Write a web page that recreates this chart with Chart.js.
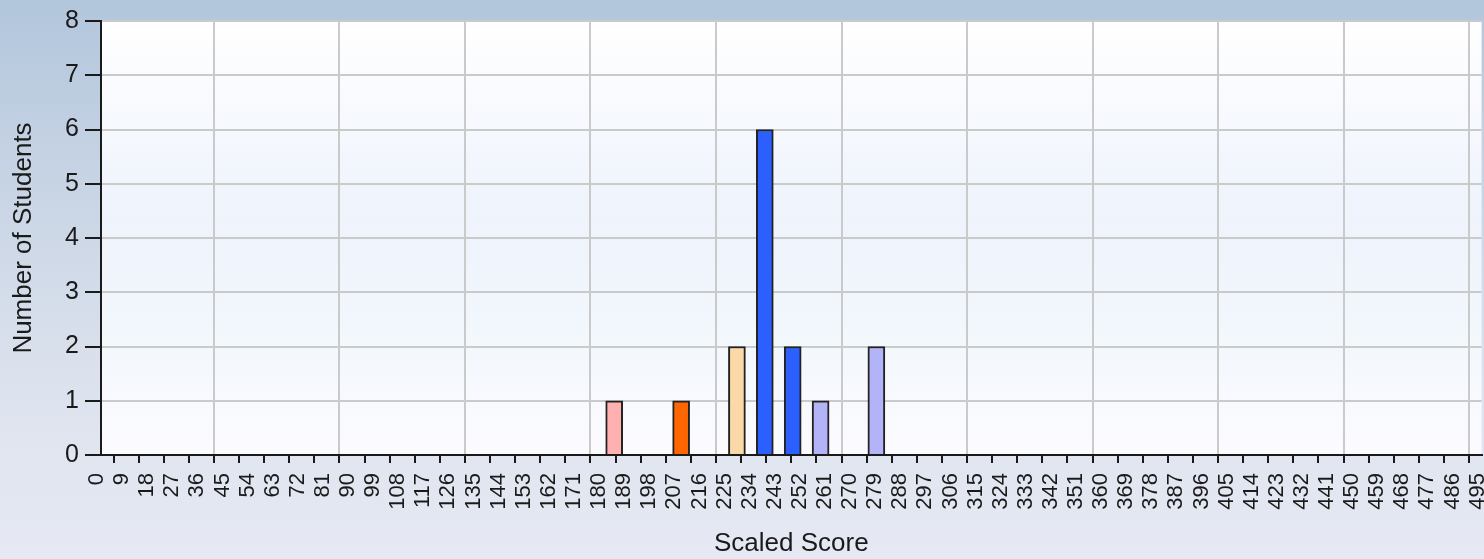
<!DOCTYPE html>
<html>
<head>
<meta charset="utf-8">
<script src="https://cdn.jsdelivr.net/npm/chart.js@4/dist/chart.umd.min.js"></script>
<style>
  html, body { margin: 0; padding: 0; overflow: hidden; width: 1484px; height: 559px; }
  body { background: linear-gradient(to bottom, #b2c6dc 0%, #c9d5e5 35%, #dde3ee 70%, #e6e9f3 100%); }
  #wrap { position: relative; width: 1518px; height: 559px; }
</style>
</head>
<body>
<div id="wrap"><canvas id="c"></canvas></div>
<script>
// Data
const scores = [184, 208, 228, 238, 248, 258, 278];
const counts = [1, 1, 2, 6, 2, 1, 2];
const barColors = ['#ffb1b1', '#ff6600', '#fad8a8', '#2b60ff', '#2b60ff', '#b3b3f8', '#b3b3f8'];
const xMin = 0, xMax = 495, xStep = 9;
const yMin = 0, yMax = 8, yStep = 1;
const xTitle = 'Scaled Score';
const yTitle = 'Number of Students';

const plotBg = {
  id: 'plotBg',
  beforeDraw(chart) {
    const {ctx, chartArea: a} = chart;
    const g = ctx.createLinearGradient(0, a.top, 0, a.bottom);
    g.addColorStop(0, '#ffffff');
    g.addColorStop(0.45, '#eef3fc');
    g.addColorStop(0.75, '#f3f8fd');
    g.addColorStop(1, '#fcfbff');
    ctx.save();
    ctx.fillStyle = g;
    ctx.fillRect(a.left, a.top, a.right - a.left, a.bottom - a.top);
    ctx.restore();
  }
};

new Chart(document.getElementById('c'), {
  type: 'bar',
  data: {
    datasets: [{
      data: scores.map((s, i) => ({x: s, y: counts[i]})),
      backgroundColor: barColors,
      borderColor: '#222222',
      borderWidth: 2,
      borderSkipped: 'bottom',
      barThickness: 17
    }]
  },
  options: {
    responsive: true,
    maintainAspectRatio: false,
    animation: false,
    layout: { padding: { top: 8, left: 0, right: 0, bottom: 0 } },
    plugins: { legend: { display: false }, tooltip: { enabled: false } },
    scales: {
      x: {
        type: 'linear',
        min: xMin, max: xMax,
        offset: false,
        afterFit: s => { s.height = 104; },
        ticks: {
          stepSize: xStep,
          autoSkip: false,
          maxRotation: 90, minRotation: 90,
          padding: 10,
          labelOffset: -4,
          color: '#1a1a1a',
          font: { family: '"Liberation Sans", Arial, sans-serif', size: 22 }
        },
        grid: {
          color: c => (c.tick && c.tick.value % 45 === 0) ? '#cacaca' : 'rgba(0,0,0,0)',
          lineWidth: 2,
          tickColor: '#1a1a1a',
          tickLength: 8,
          tickWidth: 2
        },
        border: { display: true, color: '#1a1a1a', width: 2 },
        title: {
          display: true, text: xTitle, color: '#1a1a1a',
          font: { family: '"Liberation Sans", Arial, sans-serif', size: 26 },
          padding: { top: 0, bottom: 0 }
        }
      },
      y: {
        min: yMin, max: yMax,
        afterFit: s => { s.width = 101; },
        ticks: {
          stepSize: yStep,
          padding: 6,
          color: '#1a1a1a',
          font: { family: '"Liberation Sans", Arial, sans-serif', size: 25 }
        },
        grid: {
          color: '#cacaca',
          lineWidth: 2,
          tickColor: '#1a1a1a',
          tickLength: 16,
          tickWidth: 2
        },
        border: { display: true, color: '#1a1a1a', width: 2 },
        title: {
          display: true, text: yTitle, color: '#1a1a1a',
          font: { family: '"Liberation Sans", Arial, sans-serif', size: 26 },
          padding: { top: 8, bottom: 0 }
        }
      }
    }
  },
  plugins: [plotBg]
});
</script>
</body>
</html>
